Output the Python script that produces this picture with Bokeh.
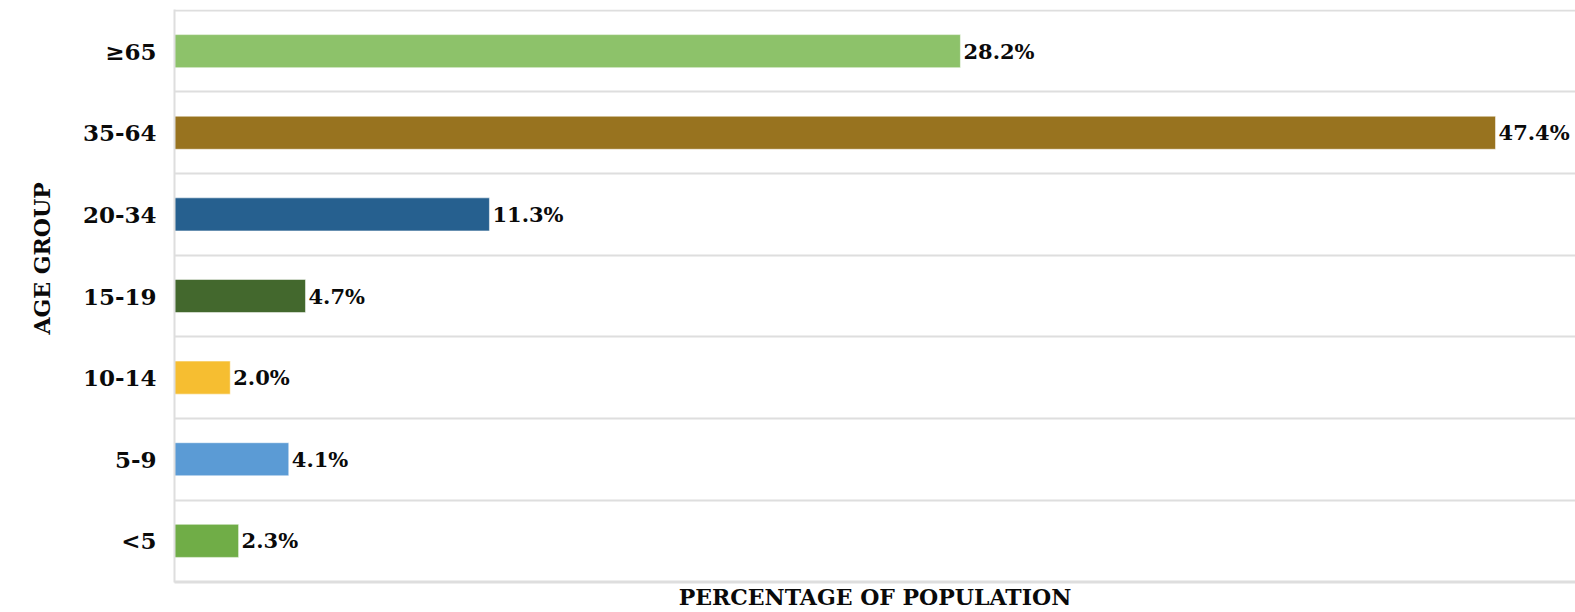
import math
from bokeh.plotting import figure
from bokeh.models import ColumnDataSource, Range1d, FixedTicker, Title
from bokeh.core.properties import value
from bokeh.embed import file_html
from bokeh.resources import INLINE

categories = ["<5", "5-9", "10-14", "15-19", "20-34", "35-64", "≥65"]
values = [2.3, 4.1, 2.0, 4.7, 11.3, 47.4, 28.2]
colors = ["#70ad47", "#5b9bd5", "#f6be31", "#43682d", "#26608f", "#98731f", "#8dc26a"]
value_labels = [f"{v:.1f}%" for v in values]

FONT = "DejaVu Serif"
ys = [i + 0.5 for i in range(len(categories))]
src = ColumnDataSource(dict(y=ys, v=values, c=colors, lab=value_labels))

p = figure(width=1575, height=612, output_backend="svg", toolbar_location=None,
           x_range=Range1d(0, 50.27), y_range=Range1d(-0.01, len(categories) + 0.01),
           min_border_left=174, min_border_right=0, min_border_top=9, min_border_bottom=0)
p.outline_line_color = None
p.background_fill_color = "white"

p.hbar(y="y", right="v", left=0, height=0.405, color="c", line_color="white",
       line_alpha=0.5, line_width=1, source=src)
p.text(x="v", y="y", text="lab", source=src, x_offset=3, text_align="left",
       text_baseline="middle", text_font=value(FONT), text_font_style="bold",
       text_font_size="21px", text_color="#0a0a0a")

# grid at category boundaries
p.xgrid.visible = False
p.ygrid.ticker = FixedTicker(ticks=list(range(len(categories) + 1)))
p.ygrid.grid_line_color = "#dedede"
p.ygrid.grid_line_width = 2

yax = p.yaxis[0]
yax.ticker = FixedTicker(ticks=ys)
yax.major_label_overrides = {y: c for y, c in zip(ys, categories)}
yax.major_tick_line_color = None
yax.minor_tick_line_color = None
yax.major_tick_out = 0
yax.major_label_standoff = 18
yax.axis_line_color = "#dedede"
yax.axis_line_width = 2
yax.major_label_text_font = FONT
yax.major_label_text_font_style = "bold"
yax.major_label_text_font_size = "23px"
yax.major_label_text_color = "#0a0a0a"

xax = p.xaxis[0]
xax.ticker = FixedTicker(ticks=[])
xax.major_tick_line_color = None
xax.minor_tick_line_color = None
xax.major_tick_out = 0
xax.major_label_standoff = 0
xax.major_label_text_font_size = "0px"
xax.axis_line_color = "#dedede"
xax.axis_line_width = 2
xax.axis_label = "PERCENTAGE OF POPULATION"
xax.axis_label_standoff = 1
xax.axis_label_text_font = FONT
xax.axis_label_text_font_style = "bold"
xax.axis_label_text_font_size = "22px"
xax.axis_label_text_color = "#0a0a0a"

p.add_layout(Title(text="AGE GROUP", align="left", offset=248, standoff=50,
                   text_font=FONT, text_font_style="bold", text_font_size="22px",
                   text_color="#0a0a0a"), "left")

open("out.html", "w").write(file_html(p, INLINE))
